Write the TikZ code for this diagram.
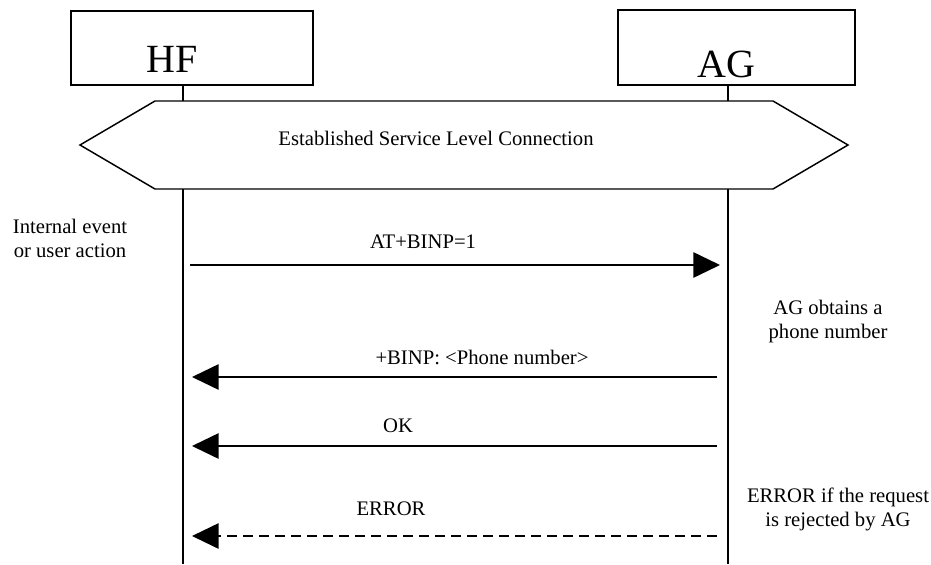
\documentclass[tikz,border=0pt]{standalone}
\usepackage{fontspec}
\setmainfont{Liberation Serif}
\usetikzlibrary{arrows.meta}

\tikzset{
	entity/.style={draw, line width=1.5pt, inner sep=0pt},
	entitylabel/.style={font=\fontsize{30}{30}\selectfont, anchor=base, inner sep=0pt},
	life/.style={line width=1.5pt},
	msg/.style={line width=1.4pt, -{Triangle[length=20pt,width=19pt]}},
	txt/.style={font=\fontsize{15.5}{18}\selectfont, align=center, inner sep=0pt},
}

\begin{document}
\begin{tikzpicture}[x=0.75pt,y=-0.75pt]
\useasboundingbox (0,0) rectangle (931,564);
				% entities
				\node[entity, minimum width=181.5pt, minimum height=55.5pt] (hf) at (192,48) {};
				\node[entity, minimum width=177.75pt, minimum height=56.25pt] (ag) at (736.5,47.5) {};
				\node[entitylabel] (hfname) at (172,72) {HF};
				\node[entitylabel] (agname) at (726,77) {AG};

				% lifelines
				\foreach \who/\x in {hf/183, ag/728} {
\coordinate (\who-top) at (\x,101); \coordinate (\who-bot) at (\x,189); \coordinate (\who-end) at (\x,564);
\draw[life] (\who.south -| \who-top) -- (\who-top); \draw[life] (\who-bot) -- (\who-end);
				}

				\draw[line width=1.1pt] (80,145) -- (155,101) -- (773,101) -- (848,145) -- (773,189) -- (155,189) -- cycle;
				\node[txt, anchor=base] (slc) at (436,145) {Established Service Level Connection};

				% messages
				\coordinate (hf-req) at (190,265); \coordinate (ag-req) at (720,265);
				\draw[msg] (hf-req) -- (ag-req);
				\foreach \name/\y in {binp/377, ok/446, err/536} {
\coordinate (ag-\name) at (717,\y); \coordinate (hf-\name) at (192,\y);
				}
				\draw[msg] (ag-binp) -- (hf-binp);
				\draw[msg] (ag-ok) -- (hf-ok);
				\draw[msg, dash pattern=on 7.5pt off 4.5pt] (ag-err) -- (hf-err);

				\node[txt, anchor=base] (reqlabel) at (423,248) {AT+BINP=1};
				\node[txt, anchor=base] (binplabel) at (482,364) {+BINP: <Phone number>};
				\node[txt, anchor=base] (oklabel) at (398,432) {OK};
				\node[txt, anchor=base] (errlabel) at (391,515) {ERROR};

				% notes
				\node[txt] (event) at (70,238) {Internal event\\or user action};
				\node[txt] (obtain) at (828,322) {AG obtains a\\phone number};
				\node[txt] (reject) at (838,509) {ERROR if the request\\is rejected by AG};
		\end{tikzpicture}
\end{document}
